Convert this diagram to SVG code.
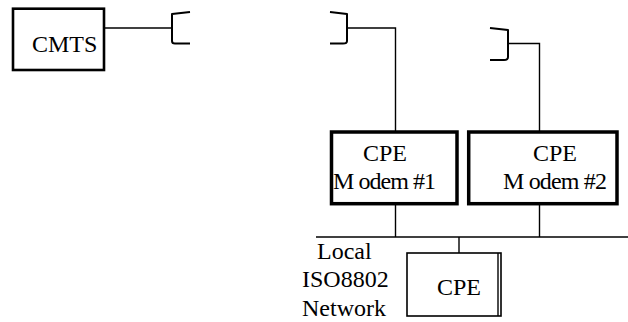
<svg xmlns="http://www.w3.org/2000/svg" width="628" height="322" viewBox="0 0 628 322">
  <style>
    text { font-family: 'Liberation Serif', 'DejaVu Serif', serif; font-size: 24px; fill: #000; }
    .wire { fill: none; stroke: #000; stroke-width: 1.4; }
    .tap { fill: none; stroke: #000; stroke-width: 2; stroke-linejoin: round; }
    .heavy { fill: #fff; stroke: #000; stroke-width: 3.5; }
    .thick { fill: #fff; stroke: #000; stroke-width: 2.6; }
    .thin { fill: #fff; stroke: #000; stroke-width: 1.6; }
  </style>
  <rect width="628" height="322" fill="#fff"/>

  <g id="connectors">
    <!-- CMTS feed to first coupler -->
    <path class="wire" d="M105 28 H172"/>
    <!-- coupler to modem #1 -->
    <path class="wire" d="M347 28 H395.5 V132"/>
    <!-- coupler to modem #2 -->
    <path class="wire" d="M508 43.5 H539.5 V132"/>
    <!-- modem drops to the local bus -->
    <path class="wire" d="M395.5 204 V237"/>
    <path class="wire" d="M539.5 204 V237"/>
    <!-- local ISO8802 bus -->
    <path class="wire" d="M316 237 H628"/>
    <!-- bus drop to CPE -->
    <path class="wire" d="M459 237 V253"/>
    <!-- coupler brackets -->
    <path class="tap" d="M190 12 L172 14 V41 Q172 43.5 175 43.5 H190"/>
    <path class="tap" d="M330 12 L347 14 V41 Q347 43.5 343 43.5 H330"/>
    <path class="tap" d="M490 28 L508 30 V57 Q508 60 504 60 H490"/>
  </g>

  <g id="cmts">
    <rect class="thick" x="13" y="8.7" width="91" height="61.3"/>
    <text x="32" y="52">CMTS</text>
  </g>

  <g id="modem1">
    <rect class="heavy" x="331.5" y="132" width="125.5" height="71.7"/>
    <text x="363" y="161">CPE</text>
    <text x="333" y="189" textLength="103" lengthAdjust="spacing">M odem #1</text>
  </g>

  <g id="modem2">
    <rect class="heavy" x="468.7" y="132" width="148.3" height="71.7"/>
    <text x="533" y="161">CPE</text>
    <text x="503" y="189" textLength="104" lengthAdjust="spacing">M odem #2</text>
  </g>

  <g id="cpe">
    <rect class="thin" x="407" y="253" width="94" height="63"/>
    <path class="wire" d="M498 253 V316"/>
    <text x="437" y="295">CPE</text>
  </g>

  <g id="network-label">
    <text x="317" y="259">Local</text>
    <text x="302" y="287">ISO8802</text>
    <text x="302" y="316">Network</text>
  </g>
</svg>
